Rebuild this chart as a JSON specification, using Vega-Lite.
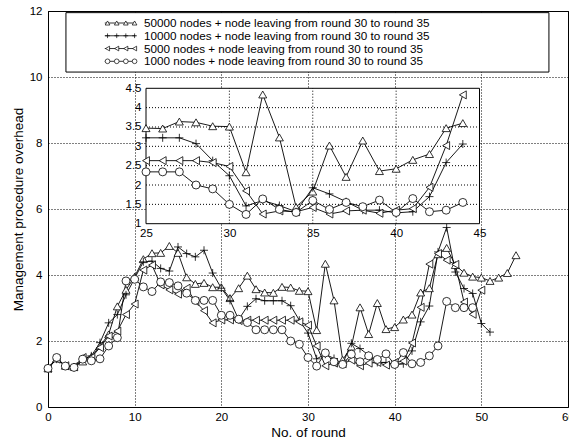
{
  "$schema": "https://vega.github.io/schema/vega-lite/v6.json",
  "width": 520,
  "height": 396,
  "autosize": "none",
  "padding": {"left": 48, "top": 11, "right": 1, "bottom": 38},
  "config": {"font": "Liberation Sans", "view": {"stroke": "black", "strokeWidth": 1}},
  "datasets": {
    "main": [
      {"s":"50000","r":0,"v":1.17},{"s":"50000","r":1,"v":1.47},{"s":"50000","r":2,"v":1.25},{"s":"50000","r":3,"v":1.22},{"s":"50000","r":4,"v":1.38},{"s":"50000","r":5,"v":1.52},{"s":"50000","r":6,"v":1.85},{"s":"50000","r":7,"v":2.2},{"s":"50000","r":8,"v":3.05},{"s":"50000","r":9,"v":3.55},{"s":"50000","r":10,"v":3.95},{"s":"50000","r":11,"v":4.48},{"s":"50000","r":12,"v":4.66},{"s":"50000","r":13,"v":4.67},{"s":"50000","r":14,"v":4.88},{"s":"50000","r":15,"v":4.67},{"s":"50000","r":16,"v":3.93},{"s":"50000","r":17,"v":3.73},{"s":"50000","r":18,"v":3.76},{"s":"50000","r":19,"v":3.63},{"s":"50000","r":20,"v":3.63},{"s":"50000","r":21,"v":3.3},{"s":"50000","r":22,"v":3.6},{"s":"50000","r":23,"v":3.98},{"s":"50000","r":24,"v":3.57},{"s":"50000","r":25,"v":3.47},{"s":"50000","r":26,"v":3.46},{"s":"50000","r":27,"v":3.64},{"s":"50000","r":28,"v":3.62},{"s":"50000","r":29,"v":3.52},{"s":"50000","r":30,"v":3.51},{"s":"50000","r":31,"v":2.33},{"s":"50000","r":32,"v":4.34},{"s":"50000","r":33,"v":3.23},{"s":"50000","r":34,"v":1.43},{"s":"50000","r":35,"v":1.83},{"s":"50000","r":36,"v":3.02},{"s":"50000","r":37,"v":2.21},{"s":"50000","r":38,"v":3.15},{"s":"50000","r":39,"v":2.36},{"s":"50000","r":40,"v":2.42},{"s":"50000","r":41,"v":2.65},{"s":"50000","r":42,"v":2.8},{"s":"50000","r":43,"v":3.47},{"s":"50000","r":44,"v":3.6},{"s":"50000","r":45,"v":4.63},{"s":"50000","r":46,"v":4.82},{"s":"50000","r":47,"v":4.3},{"s":"50000","r":48,"v":4.07},{"s":"50000","r":49,"v":3.95},{"s":"50000","r":50,"v":3.92},{"s":"50000","r":51,"v":3.82},{"s":"50000","r":52,"v":3.92},{"s":"50000","r":53,"v":4.06},{"s":"50000","r":54,"v":4.6},
      {"s":"10000","r":0,"v":1.17},{"s":"10000","r":1,"v":1.45},{"s":"10000","r":2,"v":1.25},{"s":"10000","r":3,"v":1.2},{"s":"10000","r":4,"v":1.45},{"s":"10000","r":5,"v":1.55},{"s":"10000","r":6,"v":1.95},{"s":"10000","r":7,"v":2.55},{"s":"10000","r":8,"v":2.8},{"s":"10000","r":9,"v":3.4},{"s":"10000","r":10,"v":3.9},{"s":"10000","r":11,"v":4.4},{"s":"10000","r":12,"v":4.42},{"s":"10000","r":13,"v":4.2},{"s":"10000","r":14,"v":4.12},{"s":"10000","r":15,"v":4.85},{"s":"10000","r":16,"v":4.65},{"s":"10000","r":17,"v":4.55},{"s":"10000","r":18,"v":4.75},{"s":"10000","r":19,"v":4.06},{"s":"10000","r":20,"v":3.6},{"s":"10000","r":21,"v":3.23},{"s":"10000","r":22,"v":2.65},{"s":"10000","r":23,"v":3.05},{"s":"10000","r":24,"v":3.28},{"s":"10000","r":25,"v":3.22},{"s":"10000","r":26,"v":3.22},{"s":"10000","r":27,"v":3.22},{"s":"10000","r":28,"v":3.07},{"s":"10000","r":29,"v":2.63},{"s":"10000","r":30,"v":2.24},{"s":"10000","r":31,"v":1.46},{"s":"10000","r":32,"v":1.6},{"s":"10000","r":33,"v":1.47},{"s":"10000","r":34,"v":1.31},{"s":"10000","r":35,"v":1.93},{"s":"10000","r":36,"v":1.77},{"s":"10000","r":37,"v":1.57},{"s":"10000","r":38,"v":1.35},{"s":"10000","r":39,"v":1.35},{"s":"10000","r":40,"v":1.28},{"s":"10000","r":41,"v":1.31},{"s":"10000","r":42,"v":1.7},{"s":"10000","r":43,"v":2.58},{"s":"10000","r":44,"v":3.06},{"s":"10000","r":45,"v":4.7},{"s":"10000","r":46,"v":5.44},{"s":"10000","r":47,"v":4.09},{"s":"10000","r":48,"v":3.59},{"s":"10000","r":49,"v":3.44},{"s":"10000","r":50,"v":2.53},{"s":"10000","r":51,"v":2.27},
      {"s":"5000","r":0,"v":1.17},{"s":"5000","r":1,"v":1.45},{"s":"5000","r":2,"v":1.25},{"s":"5000","r":3,"v":1.22},{"s":"5000","r":4,"v":1.5},{"s":"5000","r":5,"v":1.5},{"s":"5000","r":6,"v":1.8},{"s":"5000","r":7,"v":2.15},{"s":"5000","r":8,"v":2.3},{"s":"5000","r":9,"v":2.8},{"s":"5000","r":10,"v":3.12},{"s":"5000","r":11,"v":4.15},{"s":"5000","r":12,"v":4.3},{"s":"5000","r":13,"v":3.7},{"s":"5000","r":14,"v":3.55},{"s":"5000","r":15,"v":3.42},{"s":"5000","r":16,"v":3.6},{"s":"5000","r":17,"v":3.2},{"s":"5000","r":18,"v":2.92},{"s":"5000","r":19,"v":2.55},{"s":"5000","r":20,"v":2.64},{"s":"5000","r":21,"v":2.64},{"s":"5000","r":22,"v":2.62},{"s":"5000","r":23,"v":2.63},{"s":"5000","r":24,"v":2.63},{"s":"5000","r":25,"v":2.63},{"s":"5000","r":26,"v":2.63},{"s":"5000","r":27,"v":2.63},{"s":"5000","r":28,"v":2.63},{"s":"5000","r":29,"v":2.58},{"s":"5000","r":30,"v":2.48},{"s":"5000","r":31,"v":1.85},{"s":"5000","r":32,"v":1.25},{"s":"5000","r":33,"v":1.33},{"s":"5000","r":34,"v":1.31},{"s":"5000","r":35,"v":1.42},{"s":"5000","r":36,"v":1.25},{"s":"5000","r":37,"v":1.33},{"s":"5000","r":38,"v":1.35},{"s":"5000","r":39,"v":1.27},{"s":"5000","r":40,"v":1.35},{"s":"5000","r":41,"v":1.39},{"s":"5000","r":42,"v":1.94},{"s":"5000","r":43,"v":3.02},{"s":"5000","r":44,"v":4.33},{"s":"5000","r":45,"v":4.65},{"s":"5000","r":46,"v":4.45},{"s":"5000","r":47,"v":4.32},{"s":"5000","r":48,"v":3.18},{"s":"5000","r":49,"v":2.81},{"s":"5000","r":50,"v":3.54},
      {"s":"1000","r":0,"v":1.17},{"s":"1000","r":1,"v":1.5},{"s":"1000","r":2,"v":1.24},{"s":"1000","r":3,"v":1.2},{"s":"1000","r":4,"v":1.45},{"s":"1000","r":5,"v":1.4},{"s":"1000","r":6,"v":1.46},{"s":"1000","r":7,"v":1.85},{"s":"1000","r":8,"v":2.1},{"s":"1000","r":9,"v":3.82},{"s":"1000","r":10,"v":3.87},{"s":"1000","r":11,"v":3.64},{"s":"1000","r":12,"v":3.5},{"s":"1000","r":13,"v":3.79},{"s":"1000","r":14,"v":3.77},{"s":"1000","r":15,"v":3.67},{"s":"1000","r":16,"v":3.45},{"s":"1000","r":17,"v":3.23},{"s":"1000","r":18,"v":3.23},{"s":"1000","r":19,"v":3.23},{"s":"1000","r":20,"v":2.78},{"s":"1000","r":21,"v":2.78},{"s":"1000","r":22,"v":2.66},{"s":"1000","r":23,"v":2.56},{"s":"1000","r":24,"v":2.34},{"s":"1000","r":25,"v":2.34},{"s":"1000","r":26,"v":2.34},{"s":"1000","r":27,"v":2.34},{"s":"1000","r":28,"v":2.0},{"s":"1000","r":29,"v":1.9},{"s":"1000","r":30,"v":1.5},{"s":"1000","r":31,"v":1.24},{"s":"1000","r":32,"v":1.64},{"s":"1000","r":33,"v":1.37},{"s":"1000","r":34,"v":1.29},{"s":"1000","r":35,"v":1.6},{"s":"1000","r":36,"v":1.37},{"s":"1000","r":37,"v":1.55},{"s":"1000","r":38,"v":1.44},{"s":"1000","r":39,"v":1.61},{"s":"1000","r":40,"v":1.29},{"s":"1000","r":41,"v":1.65},{"s":"1000","r":42,"v":1.31},{"s":"1000","r":43,"v":1.35},{"s":"1000","r":44,"v":1.55},{"s":"1000","r":45,"v":1.85},{"s":"1000","r":46,"v":3.2},{"s":"1000","r":47,"v":3.01},{"s":"1000","r":48,"v":3.01},{"s":"1000","r":49,"v":3.01}
    ],
    "legend": [
      {"s":"50000","label":"50000 nodes + node leaving from round 30 to round 35"},
      {"s":"10000","label":"10000 nodes + node leaving from round 30 to round 35"},
      {"s":"5000","label":"5000 nodes + node leaving from round 30 to round 35"},
      {"s":"1000","label":"1000 nodes + node leaving from round 30 to round 35"}
    ],
    "ixt": [{"t":30},{"t":35},{"t":40}],
    "iyt": [{"t":1.5},{"t":2},{"t":2.5},{"t":3},{"t":3.5},{"t":4}]
  },
  "layer": [
    {
      "layer": [
        {
          "data": {"name": "main"},
          "mark": {"type": "line", "stroke": "black", "strokeWidth": 0.9},
          "encoding": {
            "x": {"field": "r", "type": "quantitative", "scale": {"domain": [0, 60], "nice": false, "zero": false},
              "axis": {"orient": "bottom", "values": [0,10,20,30,40,50,60], "grid": true, "gridDash": [1,2], "gridColor": "black", "gridOpacity": 1, "gridWidth": 1, "domain": false, "ticks": false, "labelPadding": 4, "labelFontSize": 11.5, "labelColor": "black", "labelFlush": false, "labelOverlap": false, "title": "No. of round", "titleFontSize": 13.5, "titleFontWeight": "normal", "titleColor": "black", "titlePadding": 3}},
            "y": {"field": "v", "type": "quantitative", "scale": {"domain": [0, 12], "nice": false, "zero": false},
              "axis": {"orient": "left", "values": [0,2,4,6,8,10,12], "grid": true, "gridDash": [1,2], "gridColor": "black", "gridOpacity": 1, "gridWidth": 1, "domain": false, "ticks": false, "labelPadding": 6, "labelFontSize": 11.5, "labelColor": "black", "labelFlush": false, "labelOverlap": false, "title": "Management procedure overhead", "titleFontSize": 13.5, "titleFontWeight": "normal", "titleColor": "black", "titlePadding": 4}},
            "detail": {"field": "s"}
          }
        },
        {
          "data": {"name": "main"},
          "mark": {"type": "point", "filled": true, "fill": "white", "stroke": "black", "strokeWidth": 0.8, "size": 64, "opacity": 1},
          "encoding": {
            "x": {"field": "r", "type": "quantitative"},
            "y": {"field": "v", "type": "quantitative"},
            "shape": {"field": "s", "type": "nominal", "scale": {"domain": ["50000","10000","5000","1000"], "range": ["triangle-up", "M-1,0L1,0M0,-1L0,1", "triangle-left", "circle"]}, "legend": null}
          }
        },
        {
          "data": {"values": [{}]},
          "mark": {"type": "rect", "fill": "white", "stroke": "black", "strokeWidth": 1},
          "encoding": {
            "x": {"datum": 2.07, "type": "quantitative"},
            "x2": {"datum": 57.8},
            "y": {"datum": 11.95, "type": "quantitative"},
            "y2": {"datum": 10.15}
          }
        }
      ]
    },
    {
      "layer": [
        {
          "data": {"values": [{}]},
          "mark": {"type": "rect", "fill": "white", "stroke": "black", "strokeWidth": 1},
          "encoding": {
            "x": {"datum": 25, "type": "quantitative", "scale": {"domain": [25, 45], "range": [98, 431.5], "nice": false, "zero": false},
              "axis": {"orient": "bottom", "offset": -183.3, "values": [25,30,35,40,45], "grid": false, "domain": false, "ticks": false, "labelPadding": 4, "labelFontSize": 11.5, "labelColor": "black", "labelFlush": false, "labelOverlap": false, "title": null, "zindex": 1}},
            "x2": {"datum": 45},
            "y": {"datum": 1, "type": "quantitative", "scale": {"domain": [1, 4.5], "range": [212.7, 77.3], "nice": false, "zero": false},
              "axis": {"orient": "left", "offset": -98, "values": [1,1.5,2,2.5,3,3.5,4,4.5], "format": "~g", "grid": false, "domain": false, "ticks": false, "labelPadding": 5, "labelFontSize": 11.5, "labelColor": "black", "labelFlush": false, "labelOverlap": false, "title": null, "zindex": 1}},
            "y2": {"datum": 4.5}
          }
        },
        {
          "data": {"name": "ixt"},
          "mark": {"type": "rule", "stroke": "black", "strokeDash": [1, 2], "strokeWidth": 1},
          "encoding": {"x": {"field": "t", "type": "quantitative"}, "y": {"datum": 1, "type": "quantitative"}, "y2": {"datum": 4.5}}
        },
        {
          "data": {"name": "iyt"},
          "mark": {"type": "rule", "stroke": "black", "strokeDash": [1, 2], "strokeWidth": 1},
          "encoding": {"y": {"field": "t", "type": "quantitative"}, "x": {"datum": 25, "type": "quantitative"}, "x2": {"datum": 45}}
        },
        {
          "data": {"name": "main"},
          "transform": [{"filter": "datum.r >= 25 && datum.r <= 44"}],
          "mark": {"type": "line", "stroke": "black", "strokeWidth": 0.9},
          "encoding": {"x": {"field": "r", "type": "quantitative"}, "y": {"field": "v", "type": "quantitative"}, "detail": {"field": "s"}}
        },
        {
          "data": {"name": "main"},
          "transform": [{"filter": "datum.r >= 25 && datum.r <= 44"}],
          "mark": {"type": "point", "filled": true, "fill": "white", "stroke": "black", "strokeWidth": 0.8, "size": 64, "opacity": 1},
          "encoding": {
            "x": {"field": "r", "type": "quantitative"},
            "y": {"field": "v", "type": "quantitative"},
            "shape": {"field": "s", "type": "nominal", "legend": null}
          }
        }
      ]
    },
    {
      "data": {"name": "legend"},
      "encoding": {
        "y": {"field": "s", "type": "nominal", "scale": {"type": "point", "domain": ["50000","10000","5000","1000"], "range": [12, 50.3], "padding": 0}, "axis": null}
      },
      "layer": [
        {
          "mark": {"type": "rule", "stroke": "black", "strokeWidth": 0.8},
          "encoding": {"x": {"datum": 6.55, "type": "quantitative", "scale": {"domain": [0, 60], "nice": false, "zero": false}, "axis": null}, "x2": {"datum": 10.1}}
        },
        {
          "mark": {"type": "point", "filled": true, "fill": "white", "stroke": "black", "strokeWidth": 0.7, "size": 22, "opacity": 1},
          "encoding": {"x": {"datum": 6.87, "type": "quantitative"}, "shape": {"field": "s", "type": "nominal", "legend": null}}
        },
        {
          "mark": {"type": "point", "filled": true, "fill": "white", "stroke": "black", "strokeWidth": 0.7, "size": 22, "opacity": 1},
          "encoding": {"x": {"datum": 7.93, "type": "quantitative"}, "shape": {"field": "s", "type": "nominal", "legend": null}}
        },
        {
          "mark": {"type": "point", "filled": true, "fill": "white", "stroke": "black", "strokeWidth": 0.7, "size": 22, "opacity": 1},
          "encoding": {"x": {"datum": 8.98, "type": "quantitative"}, "shape": {"field": "s", "type": "nominal", "legend": null}}
        },
        {
          "mark": {"type": "point", "filled": true, "fill": "white", "stroke": "black", "strokeWidth": 0.7, "size": 22, "opacity": 1},
          "encoding": {"x": {"datum": 9.99, "type": "quantitative"}, "shape": {"field": "s", "type": "nominal", "legend": null}}
        },
        {
          "mark": {"type": "text", "align": "left", "baseline": "middle", "fontSize": 11.7, "font": "Liberation Sans", "color": "black"},
          "encoding": {"x": {"datum": 11.07, "type": "quantitative"}, "text": {"field": "label"}}
        }
      ]
    }
  ],
  "resolve": {"scale": {"x": "independent", "y": "independent"}, "axis": {"x": "independent", "y": "independent"}}
}
